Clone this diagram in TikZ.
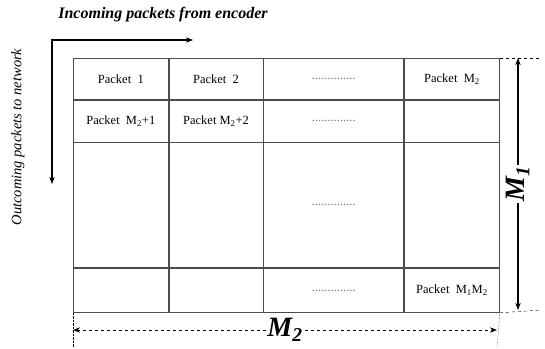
\documentclass[tikz,border=0pt]{standalone}
\usepackage{fontspec}
\setmainfont{Liberation Serif}
\usetikzlibrary{arrows.meta,positioning}

\begin{document}
\begin{tikzpicture}[
    x=1pt, y=-1pt,
    cell/.style={draw=black!70, line width=0.7pt, inner sep=0pt, font=\fontsize{12.5}{14}\selectfont},
    colA/.style={minimum width=95pt},
    colB/.style={minimum width=94pt},
    colC/.style={minimum width=140pt},
    rowA/.style={minimum height=41pt},
    rowB/.style={minimum height=42pt},
    rowC/.style={minimum height=125pt},
    rowD/.style={minimum height=44pt},
    dots/.style={text=black!55},
    arrow/.style={{Stealth[length=2.5mm]}-{Stealth[length=2.5mm]}, line width=1.3pt},
    dimarrow/.style={{Stealth[length=2.5mm]}-{Stealth[length=2.5mm]}, line width=1.1pt},
    tick/.style={dashed, thin},
    lbl/.style={font=\fontsize{16}{18}\selectfont\bfseries\itshape},
    sidelbl/.style={font=\fontsize{14.5}{16}\selectfont\itshape},
    dimlbl/.style={font=\fontsize{28}{30}\selectfont\bfseries\itshape, fill=white, inner sep=1pt},
  ]
  \useasboundingbox (0,0) rectangle (545,348);

  % the packet table
  \node[cell, colA, rowA, anchor=north west] (c11) at (73,58) {Packet\ \ 1};
  \node[cell, colB, rowA, right=0pt of c11] (c12) {Packet\ \ 2};
  \node[cell, colC, rowA, right=0pt of c12, dots] (c13) {..............};
  \node[cell, colA, rowA, right=0pt of c13] (c14) {Packet\ \ M\textsubscript{2}};

  \node[cell, colA, rowB, below=0pt of c11] (c21) {Packet\ \ M\textsubscript{2}+1};
  \node[cell, colB, rowB, below=0pt of c12] (c22) {Packet M\textsubscript{2}+2};
  \node[cell, colC, rowB, below=0pt of c13, dots] (c23) {..............};
  \node[cell, colA, rowB, below=0pt of c14] (c24) {};

  \node[cell, colA, rowC, below=0pt of c21] (c31) {};
  \node[cell, colB, rowC, below=0pt of c22] (c32) {};
  \node[cell, colC, rowC, below=0pt of c23, dots] (c33) {..............};
  \node[cell, colA, rowC, below=0pt of c24] (c34) {};

  \node[cell, colA, rowD, below=0pt of c31] (c41) {};
  \node[cell, colB, rowD, below=0pt of c32] (c42) {};
  \node[cell, colC, rowD, below=0pt of c33, dots] (c43) {..............};
  \node[cell, colA, rowD, below=0pt of c34] (c44) {Packet\ \ M\textsubscript{1}M\textsubscript{2}};

  % in/out directions
  \coordinate (inEnd) at (193,40);
  \coordinate (outEnd) at (52,184);
  \draw[arrow] (outEnd) |- (inEnd);
  \node[lbl] (inLbl) at (163,15) {Incoming packets from encoder};
  \node[sidelbl, rotate=90] (outLbl) at (18,137) {Outcoming packets to network};

  % M1 dimension
  \coordinate (m1top) at (518,58);
  \coordinate (m1bot) at (518,310);
  \coordinate (tickTR) at (541,58);
  \coordinate (tickBR) at (541,310);
  \draw[tick] (c14.north east) -- (tickTR);
  \draw[tick] (c44.south east) -- (tickBR);
  \draw[dimarrow] (m1top) -- (m1bot) node[dimlbl, midway, rotate=90] (m1Lbl) {M\textsubscript{1}};

  % M2 dimension
  \coordinate (tickBL) at (73,347);
  \coordinate (tickBE) at (497,347);
  \coordinate (m2left) at (73,330);
  \coordinate (m2right) at (497,330);
  \draw[densely dotted] (c41.south west) -- (tickBL);
  \draw[densely dotted] (c44.south east) -- (tickBE);
  \draw[dimarrow, dashed, line width=0.8pt] (m2left) -- (m2right) node[dimlbl, midway] (m2Lbl) {M\textsubscript{2}};
\end{tikzpicture}
\end{document}
